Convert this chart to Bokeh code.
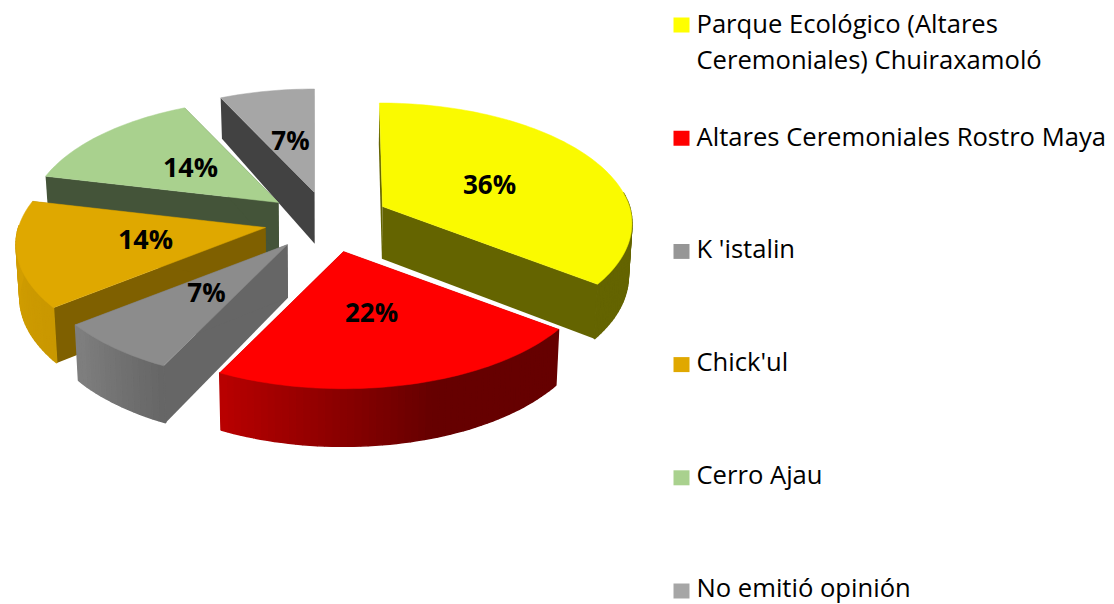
import numpy as np
from bokeh.plotting import figure
from bokeh.core.properties import value
from bokeh.embed import file_html
from bokeh.resources import INLINE

CATEGORIES = [["Parque Ecológico (Altares", "Ceremoniales) Chuiraxamoló"],
              ["Altares Ceremoniales Rostro Maya"],
              ["K 'istalin"],
              ["Chick'ul"],
              ["Cerro Ajau"],
              ["No emitió opinión"]]
SHARES = [36, 22, 7, 14, 14, 7]

TOP_COLORS = ["#FAFA00", "#FF0000", "#8C8C8C", "#DFA800", "#A9D18E", "#A6A6A6"]
KEY_COLORS = ["#FFFF00", "#FF0000", "#969696", "#E0A800", "#A9D18E", "#A6A6A6"]
WALL_SHADE = [0.40, 0.40, 0.73, 0.57, 0.40, 0.40]

# layout of the exploded pie (page pixels)
APEX_X = [382, 343, 287, 265, 278, 314]
APEX_Y = [206, 251, 244, 227, 202, 192]
LABEL_X = [489, 371, 206, 145, 190, 290]
LABEL_Y = [183, 311, 291, 238, 166, 139]
LABEL_SIZE = ["26px", "26px", "26px", "27px", "27px", "26px"]
DRAW_ORDER = [5, 4, 0, 3, 2, 1]
RX, RY, PERSP = 247.0, 118.0, 0.14
KEY_X, KEY_Y0, KEY_STEP = 673, 24.5, 113.2
TEXT_X, TEXT_Y0, TEXT_STEP, LINE_STEP = 696, 135.5, 112.8, 36
W, H = 1114, 604
FONT = "Open Sans"
FSIZE = "25.6px"


def warp(theta):
    return theta - 3.0 * np.sin(np.radians(theta) / 2) ** 2


def rim(ax, ay, theta):
    t = np.radians(warp(np.asarray(theta, dtype=float)))
    u, v = np.sin(t), -np.cos(t)
    w = 1 - PERSP * v
    lean = max(0, ax - 340) * 0.6 * np.minimum(1 / w - 1, 0)
    return ax + RX * u / w + lean, ay + RY * v / w


def drop(x, y):
    d = np.interp(y, [90, 200, 400], [40, 52, 58])
    return x + (330 - x) * 0.012, y + d


def shade(hexcol, m):
    rgb = [int(hexcol[i:i + 2], 16) for i in (1, 3, 5)]
    return "#%02x%02x%02x" % tuple(int(round(c * m)) for c in rgb)


def rim_light(theta):
    return float(np.interp(theta, [0, 165, 208, 232, 280, 360],
                           [.40, .40, .72, .90, .95, .95]))


edges = np.concatenate([[0], np.cumsum(SHARES)]) * 3.6

p = figure(width=W, height=H, x_range=(0, W), y_range=(H, 0),
           output_backend="svg", toolbar_location=None, min_border=0,
           background_fill_color="white", border_fill_color="white")
p.axis.visible = False
p.grid.visible = False
p.outline_line_color = None

for i in DRAW_ORDER:
    ax, ay = APEX_X[i], APEX_Y[i]
    base = TOP_COLORS[i]
    th = np.linspace(edges[i], edges[i + 1], max(int(SHARES[i] * 2.5), 12))
    rx, ry = rim(ax, ay, th)
    bx, by = drop(rx, ry)
    abx, aby = drop(ax, ay)
    wall = shade(base, WALL_SHADE[i])
    xs, ys, cols = [], [], []
    # the two cut faces
    for k in (0, -1):
        xs.append([ax, rx[k], bx[k], abx])
        ys.append([ay, ry[k], by[k], aby])
        cols.append(wall)
    p.patches(xs, ys, fill_color=cols, line_color=None)
    # curved outer side in narrow strips, only where it faces the viewer
    xs, ys, cols = [], [], []
    for k in range(len(th) - 1):
        mid = 0.5 * (th[k] + th[k + 1])
        if 85 < mid < 272:
            xs.append([rx[k], rx[k + 1], bx[k + 1], bx[k]])
            ys.append([ry[k], ry[k + 1], by[k + 1], by[k]])
            cols.append(shade(base, rim_light(mid)))
    if xs:
        p.patches(xs, ys, fill_color=cols, line_color=cols, line_width=1.5)
    # top face
    p.patch(np.r_[ax, rx], np.r_[ay, ry], fill_color=base, line_color=base, line_width=0.5)

for i, s in enumerate(SHARES):
    p.text([LABEL_X[i]], [LABEL_Y[i]], text=[f"{s}%"], text_align="center",
           text_baseline="middle", text_font=value(FONT), text_font_size=LABEL_SIZE[i],
           text_color="#000000", text_font_style="bold")

for i, lines in enumerate(CATEGORIES):
    p.rect([KEY_X + 8], [KEY_Y0 + KEY_STEP * i], width=16, height=15,
           fill_color=KEY_COLORS[i], line_color=None)
    yc = 22.5 if i == 0 else TEXT_Y0 + TEXT_STEP * (i - 1)
    p.text([TEXT_X] * len(lines), [yc + LINE_STEP * n for n in range(len(lines))], text=lines,
           text_align="left", text_baseline="middle", text_font=value(FONT),
           text_font_size=FSIZE, text_color="#000000")

open("out.html", "w").write(file_html(p, INLINE))
